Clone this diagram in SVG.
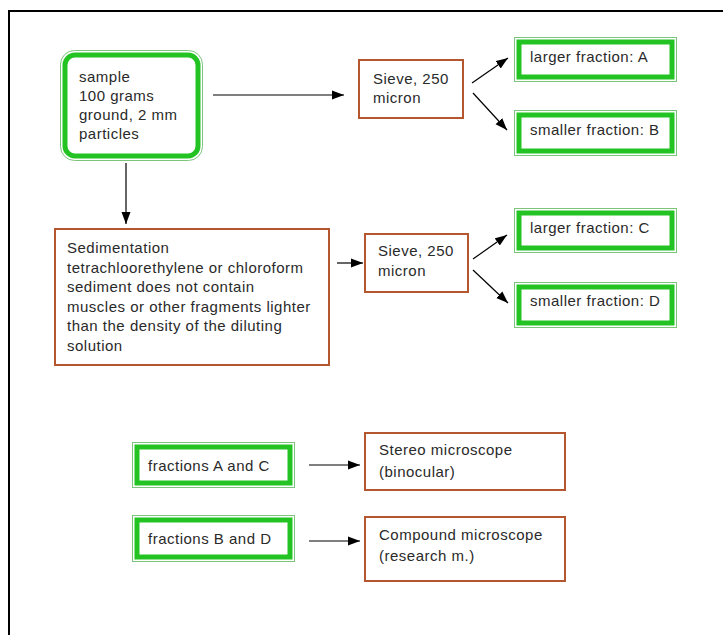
<svg xmlns="http://www.w3.org/2000/svg" width="723" height="635" viewBox="0 0 723 635">
<style>
text{font-family:"Liberation Sans",Arial,sans-serif;font-size:15px;letter-spacing:0.5px;fill:#2a2a2a}
.thin{fill:none;stroke:#7cc47c;stroke-width:1}
.thick{fill:none;stroke:#22c322;stroke-width:5}
.brown{fill:#fff;stroke:#b4562e;stroke-width:2}
.conn{stroke:#000;stroke-width:1.2;fill:none;marker-end:url(#ah)}
</style>
<defs>
<marker id="ah" viewBox="0 0 12 10" refX="12" refY="5" markerWidth="12" markerHeight="10" markerUnits="userSpaceOnUse" orient="auto">
<path d="M0,0.5 L12,5 L0,9.5 Z" fill="#000"/>
</marker>
</defs>
<rect width="723" height="635" fill="#fff"/>
<path d="M9,635 V11 H723" fill="none" stroke="#000" stroke-width="2"/>

<g id="sample">
<rect class="thin" x="60.5" y="50.5" width="142" height="110" rx="14"/>
<rect class="thick" x="65" y="55" width="133" height="101" rx="10" stroke-width="6"/>
<text x="79" y="82">sample</text>
<text x="79" y="101">100 grams</text>
<text x="79" y="120">ground, 2 mm</text>
<text x="79" y="139">particles</text>
</g>

<g id="sieve1">
<rect class="brown" x="359" y="60" width="104" height="58"/>
<text x="373" y="84">Sieve, 250</text>
<text x="373" y="103">micron</text>
</g>

<g id="fracA">
<rect class="thin" x="514.5" y="37.5" width="162" height="44"/>
<rect class="thick" x="519" y="42" width="153" height="35"/>
<text x="530" y="62">larger fraction: A</text>
</g>

<g id="fracB">
<rect class="thin" x="514.5" y="110.5" width="162" height="45"/>
<rect class="thick" x="519" y="115" width="153" height="36"/>
<text x="530" y="135">smaller fraction: B</text>
</g>

<g id="sedimentation">
<rect class="brown" x="55" y="229" width="274" height="136" stroke-width="2.5"/>
<text x="67" y="253">Sedimentation</text>
<text x="67" y="273">tetrachloorethylene or chloroform</text>
<text x="67" y="292">sediment does not contain</text>
<text x="67" y="312">muscles or other fragments lighter</text>
<text x="67" y="331">than the density of the diluting</text>
<text x="67" y="351">solution</text>
</g>

<g id="sieve2">
<rect class="brown" x="365" y="234" width="103" height="58"/>
<text x="378" y="256">Sieve, 250</text>
<text x="378" y="276">micron</text>
</g>

<g id="fracC">
<rect class="thin" x="514.5" y="208.5" width="162" height="44"/>
<rect class="thick" x="519" y="213" width="153" height="35"/>
<text x="530" y="233">larger fraction: C</text>
</g>

<g id="fracD">
<rect class="thin" x="514.5" y="282.5" width="162" height="45"/>
<rect class="thick" x="519" y="287" width="153" height="36"/>
<text x="530" y="306">smaller fraction: D</text>
</g>

<g id="fracAC">
<rect class="thin" x="132.5" y="442.5" width="162" height="45"/>
<rect class="thick" x="137" y="447" width="153" height="36"/>
<text x="148" y="471">fractions A and C</text>
</g>

<g id="fracBD">
<rect class="thin" x="132.5" y="515.5" width="162" height="46"/>
<rect class="thick" x="137" y="520" width="153" height="37"/>
<text x="148" y="544">fractions B and D</text>
</g>

<g id="stereo">
<rect class="brown" x="365" y="433" width="200" height="57"/>
<text x="379" y="455">Stereo microscope</text>
<text x="379" y="477">(binocular)</text>
</g>

<g id="compound">
<rect class="brown" x="365" y="517" width="200" height="64"/>
<text x="379" y="540">Compound microscope</text>
<text x="379" y="561">(research m.)</text>
</g>

<g id="connectors">
<line class="conn" x1="213" y1="95" x2="344" y2="95"/>
<line class="conn" x1="126" y1="163" x2="126" y2="224"/>
<line class="conn" x1="472" y1="83" x2="508" y2="58"/>
<line class="conn" x1="473" y1="93" x2="507" y2="130"/>
<line class="conn" x1="337" y1="263" x2="363" y2="263"/>
<line class="conn" x1="473" y1="259" x2="507" y2="235"/>
<line class="conn" x1="473" y1="270" x2="508" y2="303"/>
<line class="conn" x1="309" y1="465" x2="360" y2="465"/>
<line class="conn" x1="309" y1="541" x2="360" y2="541"/>
</g>
</svg>
